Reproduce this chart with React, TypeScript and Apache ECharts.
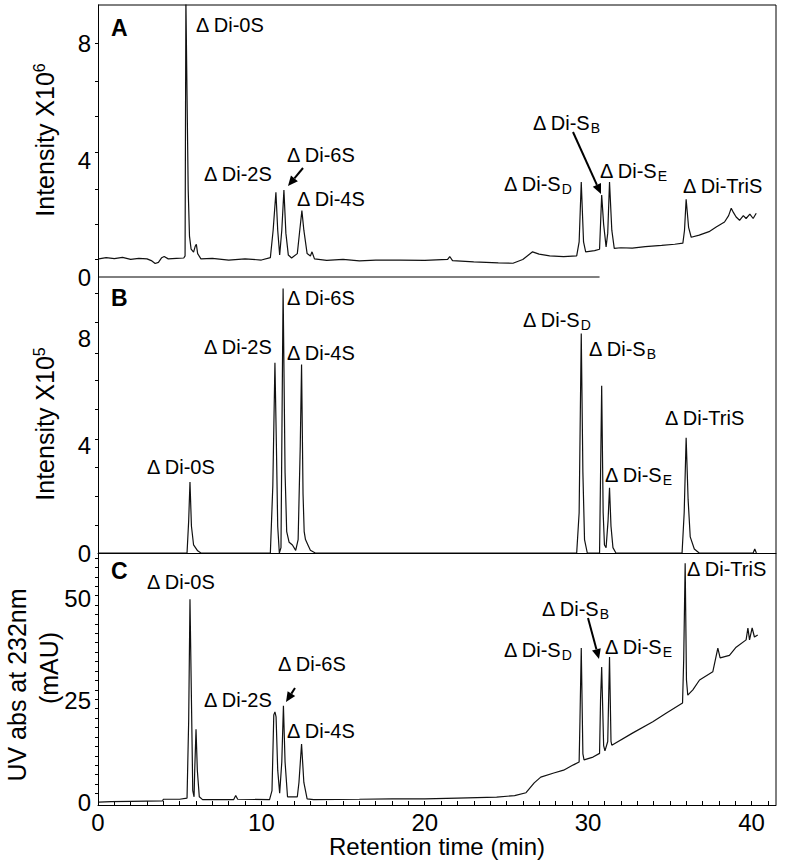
import React, { useEffect, useRef } from 'react';
import * as echarts from 'echarts';

// ---------- data ----------
const timeTicks = [0,1,2,3,4,5,6,7,8,9,10,11,12,13,14,15,16,17,18,19,20,21,22,23,24,25,26,27,28,29,30,31,32,33,34,35,36,37,38,39,40,41];
const timeLabels = [0, 10, 20, 30, 40];

const yTicksA = [0.6, 1.8, 3.0, 4.25, 5.5, 6.7, 8.0];
const yLabelsA = [0, 4, 8];
const yTicksB = [1.05, 2.1, 3.2, 4.25, 5.35, 6.45, 7.45, 8.6, 9.7];
const yLabelsB = [0, 4, 8];
const yTicksC = [2.3, 4.6, 6.9, 9.2, 11.5, 13.8, 16.1, 18.4, 20.7, 23, 25.3, 27.6, 29.9, 32.2, 34.5, 36.8, 39.1, 41.4, 43.7, 46, 48.3, 50.6, 52.9, 55.2, 57.5, 59.8];
const yLabelsC = [0, 25, 50];

// Panel A: MS intensity (x10^6) vs retention time (min)
const traceA: [number, number][] = [
  [0.05,0.62],[0.5,0.66],[1.0,0.63],[1.5,0.67],[2.0,0.60],[2.5,0.64],[3.0,0.62],[3.3,0.55],[3.5,0.46],[3.7,0.50],
  [3.9,0.66],[4.05,0.70],[4.3,0.62],[4.8,0.64],[5.25,0.65],[5.33,0.72],[5.38,9.5],[5.45,6.2],[5.52,3.0],[5.6,1.4],
  [5.7,0.95],[5.85,0.85],[5.95,1.05],[6.02,1.12],[6.1,0.8],[6.3,0.62],[7,0.64],[8,0.58],[9,0.62],[10.0,0.58],
  [10.55,0.66],[10.72,1.6],[10.89,2.9],[11.0,1.6],[11.12,0.75],[11.25,1.6],[11.38,2.97],[11.5,1.5],[11.65,0.75],[11.85,0.65],
  [12.2,0.8],[12.35,1.6],[12.48,2.27],[12.6,1.6],[12.8,0.8],[13.0,0.72],[13.1,0.86],[13.25,0.62],[14,0.57],[15,0.6],
  [16,0.55],[17,0.58],[18.5,0.58],[20,0.57],[21.4,0.6],[21.53,0.7],[21.7,0.56],[23,0.52],[24.5,0.48],[25.4,0.47],
  [26.0,0.6],[26.6,0.86],[27.0,0.78],[27.65,0.72],[28.5,0.70],[29.3,0.72],[29.45,1.2],[29.58,3.25],[29.72,1.2],[29.85,0.86],
  [30.4,0.9],[30.7,0.95],[30.83,2.8],[30.95,1.8],[31.1,1.03],[31.2,1.5],[31.31,3.25],[31.45,1.6],[31.6,0.98],[32.0,1.0],
  [32.7,0.99],[33.5,1.04],[34.5,1.08],[35.3,1.12],[35.8,1.16],[35.9,1.6],[36.0,2.66],[36.15,1.7],[36.31,1.36],[36.8,1.43],
  [37.4,1.55],[37.84,1.71],[38.35,1.88],[38.6,2.1],[38.76,2.35],[38.9,2.2],[39.06,2.05],[39.27,1.94],[39.5,2.1],[39.67,2.0],
  [39.9,2.15],[40.1,2.0],[40.29,2.18]
];

// Panel B: MS intensity (x10^5)
const traceB: [number, number][] = [
  [0.05,0],[5.45,0],[5.55,1.2],[5.63,2.65],[5.72,1.0],[5.85,0.3],[6.1,0.08],[6.3,0],[10.55,0],[10.7,2.5],
  [10.83,7.1],[10.92,4.0],[11.0,1.0],[11.1,0],[11.2,0.2],[11.33,9.87],[11.45,3.0],[11.55,0.8],[11.7,0.4],[11.9,0.3],
  [12.1,0.1],[12.25,0.5],[12.38,4.0],[12.46,7.03],[12.55,2.2],[12.62,0.8],[12.7,0.5],[12.85,0.3],[13.0,0.1],[13.3,0],
  [29.3,0],[29.45,1.5],[29.58,8.19],[29.68,3.0],[29.78,0.5],[29.95,0],[30.7,0],[30.83,6.24],[30.92,1.5],[31.0,0.3],
  [31.1,0.2],[31.22,1.2],[31.31,2.43],[31.4,1.0],[31.52,0.2],[31.7,0],[35.75,0],[35.88,1.5],[36.0,4.3],[36.12,2.0],
  [36.25,0.6],[36.5,0.15],[36.8,0],[40.1,0],[40.2,0.15],[40.3,0]
];

// Panel C: UV absorbance at 232 nm (mAU)
const traceC: [number, number][] = [
  [0.05,0.2],[0.8,0.3],[2.0,0.4],[3.95,0.5],[4.0,0.9],[5.0,0.9],[5.45,1.2],[5.55,20],[5.63,49.7],[5.72,25],
  [5.8,3],[5.88,1.5],[5.92,8],[6.0,18.0],[6.08,8],[6.2,1.5],[6.4,0.8],[8.3,0.8],[8.43,1.8],[8.55,0.9],
  [10.5,0.8],[10.65,3],[10.76,21.5],[10.83,22.2],[10.9,21],[11.0,8],[11.12,2.4],[11.25,10],[11.35,23.7],[11.45,10],
  [11.6,1.5],[12.2,1.5],[12.3,5],[12.46,14.4],[12.6,5],[12.8,1.0],[13.2,0.8],[16,0.9],[18,1.0],[20,1.0],
  [22,1.2],[24.4,1.4],[25.5,1.8],[26.2,2.5],[26.7,4.9],[27.1,6.3],[27.9,7.3],[28.5,8.0],[29.1,9.3],[29.45,10.0],
  [29.5,20],[29.58,37.8],[29.68,12],[29.75,10.5],[30.3,11.2],[30.7,12.1],[30.76,25],[30.83,33.2],[30.95,14],[31.03,12.7],
  [31.2,15],[31.31,35.6],[31.4,15],[31.45,14.1],[32.74,17.1],[33.96,19.8],[34.77,21.9],[35.78,24.4],[35.85,35],[35.94,58.5],
  [36.02,30],[36.1,26.3],[36.41,27.6],[36.82,30],[37.63,32],[37.94,37.8],[38.08,35.4],[38.65,36.0],[39.06,38.0],[39.67,39.8],
  [39.78,42.7],[39.88,39.8],[40.04,42.7],[40.18,40.5],[40.38,41]
];

// ---------- layout ----------
const FONT = 'Arial, "Liberation Sans", Helvetica, sans-serif';
const LEFT = 98;
const RIGHT_EDGE = 776;
const TOP_A = 5, BOT_A = 277;
const TOP_B = 277, BOT_B = 553;
const TOP_C = 553, BOT_C = 805;
const X_MAX = 41.5;
const A_AXIS_END = 30.7; // panel A bottom line stops here (min)

type Ann = { t: string; s?: string; x: number; y: number };
const annotations: Ann[] = [
  // A
  { t: 'Δ Di-0S', x: 196, y: 25 },
  { t: 'Δ Di-2S', x: 204, y: 174 },
  { t: 'Δ Di-6S', x: 287, y: 155 },
  { t: 'Δ Di-4S', x: 297, y: 199 },
  { t: 'Δ Di-S', s: 'B', x: 533, y: 123 },
  { t: 'Δ Di-S', s: 'E', x: 600, y: 171 },
  { t: 'Δ Di-S', s: 'D', x: 504, y: 184 },
  { t: 'Δ Di-TriS', x: 683, y: 186 },
  // B
  { t: 'Δ Di-6S', x: 287, y: 298 },
  { t: 'Δ Di-2S', x: 204, y: 347 },
  { t: 'Δ Di-4S', x: 287, y: 353 },
  { t: 'Δ Di-0S', x: 147, y: 467 },
  { t: 'Δ Di-S', s: 'D', x: 523, y: 320 },
  { t: 'Δ Di-S', s: 'B', x: 589, y: 349 },
  { t: 'Δ Di-TriS', x: 665, y: 418 },
  { t: 'Δ Di-S', s: 'E', x: 605, y: 475 },
  // C
  { t: 'Δ Di-0S', x: 147, y: 582 },
  { t: 'Δ Di-6S', x: 278, y: 664 },
  { t: 'Δ Di-2S', x: 204, y: 700 },
  { t: 'Δ Di-4S', x: 287, y: 731 },
  { t: 'Δ Di-TriS', x: 687, y: 569 },
  { t: 'Δ Di-S', s: 'B', x: 542, y: 609 },
  { t: 'Δ Di-S', s: 'E', x: 605, y: 647 },
  { t: 'Δ Di-S', s: 'D', x: 504, y: 650 },
];

const arrows: [number, number, number, number][] = [
  [303, 168, 288, 186],
  [573, 132, 601, 194],
  [295, 688, 286, 702],
  [588, 618, 599, 659],
];

function annText(a: Ann) {
  const text = a.s ? `{m|${a.t}}{s|${a.s}}` : `{m|${a.t}}`;
  return {
    type: 'text',
    x: a.x,
    y: a.y,
    silent: true,
    style: {
      text,
      align: 'left',
      verticalAlign: 'middle',
      fill: '#000',
      fontFamily: FONT,
      rich: {
        m: { fontSize: 20, fontFamily: FONT, fill: '#000', lineHeight: 24 },
        s: { fontSize: 14, fontFamily: FONT, fill: '#000', lineHeight: 14, verticalAlign: 'bottom' },
      },
    },
  };
}

function arrowEls(a: [number, number, number, number]) {
  const [x1, y1, x2, y2] = a;
  const dx = x2 - x1, dy = y2 - y1;
  const len = Math.sqrt(dx * dx + dy * dy);
  const ux = dx / len, uy = dy / len;
  const hl = 10, hw = 4.5;
  const bx = x2 - ux * hl, by = y2 - uy * hl;
  return [
    { type: 'line', silent: true, shape: { x1, y1, x2: bx, y2: by }, style: { stroke: '#000', lineWidth: 2 } },
    {
      type: 'polygon', silent: true,
      shape: { points: [[x2, y2], [bx - uy * hw, by + ux * hw], [bx + uy * hw, by - ux * hw]] },
      style: { fill: '#000' },
    },
  ];
}

function yTitle(text: string, x: number, y: number) {
  return {
    type: 'text', x, y, rotation: Math.PI / 2, silent: true,
    style: {
      text, align: 'center', verticalAlign: 'middle', fill: '#000', fontFamily: FONT,
      rich: {
        m: { fontSize: 25, fontFamily: FONT, fill: '#000', lineHeight: 28 },
        sup: { fontSize: 16, fontFamily: FONT, fill: '#000', lineHeight: 16, verticalAlign: 'top' },
      },
    },
  };
}

function panelLetter(t: string, y: number) {
  return {
    type: 'text', x: 111, y, silent: true,
    style: { text: t, align: 'left', verticalAlign: 'middle', fontSize: 23, fontWeight: 'bold', fontFamily: FONT, fill: '#000' },
  };
}

function yAxisCfg(gridIndex: number, min: number, max: number, ticks: number[], labels: number[]) {
  return {
    type: 'value', gridIndex, min, max,
    axisLine: { show: true, onZero: false, lineStyle: { color: '#000', width: 1 } },
    axisTick: { show: true, inside: false, length: 3, customValues: ticks, lineStyle: { color: '#000', width: 1 } },
    axisLabel: { show: true, customValues: labels, fontSize: 24, color: '#000', fontFamily: FONT, margin: 7 },
    splitLine: { show: false },
  };
}

function lineSeries(idx: number, data: [number, number][]) {
  return {
    type: 'line', xAxisIndex: idx, yAxisIndex: idx, data,
    symbol: 'none', clip: true, smooth: false,
    lineStyle: { color: '#111', width: 1.2 },
    silent: true,
  };
}

export default function App() {
  const ref = useRef<HTMLDivElement>(null);
  useEffect(() => {
    if (!ref.current) return;
    const chart = echarts.init(ref.current, undefined, { renderer: 'svg' });
    const plotW = RIGHT_EDGE - LEFT;
    const aEndX = LEFT + (A_AXIS_END / X_MAX) * plotW;
    const graphic: any[] = [
      { type: 'line', silent: true, shape: { x1: LEFT, y1: TOP_A, x2: RIGHT_EDGE, y2: TOP_A }, style: { stroke: '#000', lineWidth: 1 } },
      { type: 'line', silent: true, shape: { x1: RIGHT_EDGE, y1: TOP_A, x2: RIGHT_EDGE, y2: BOT_C }, style: { stroke: '#000', lineWidth: 1 } },
      { type: 'line', silent: true, shape: { x1: LEFT, y1: BOT_A, x2: aEndX, y2: BOT_A }, style: { stroke: '#000', lineWidth: 1 } },
      panelLetter('A', 28),
      panelLetter('B', 298),
      panelLetter('C', 571),
      yTitle('{m|Intensity X10}{sup|6}', 45, 140),
      yTitle('{m|Intensity X10}{sup|5}', 45, 424),
      yTitle('{m|UV abs at 232nm}', 17, 685),
      yTitle('{m|(mAU)}', 49, 668),
      ...annotations.map(annText),
      ...arrows.flatMap(arrowEls),
    ];
    const gridBase = { left: LEFT, width: RIGHT_EDGE - LEFT, show: false, containLabel: false };
    chart.setOption({
      animation: false,
      backgroundColor: '#fff',
      grid: [
        { ...gridBase, top: TOP_A, height: BOT_A - TOP_A },
        { ...gridBase, top: TOP_B, height: BOT_B - TOP_B },
        { ...gridBase, top: TOP_C, height: BOT_C - TOP_C },
      ],
      xAxis: [
        { type: 'value', gridIndex: 0, min: 0, max: X_MAX, show: false },
        {
          type: 'value', gridIndex: 1, min: 0, max: X_MAX,
          axisLine: { show: true, onZero: false, lineStyle: { color: '#000', width: 1 } },
          axisTick: { show: false }, axisLabel: { show: false }, splitLine: { show: false },
        },
        {
          type: 'value', gridIndex: 2, min: 0, max: X_MAX,
          axisLine: { show: true, onZero: false, lineStyle: { color: '#000', width: 1 } },
          axisTick: { show: true, inside: true, length: 4, customValues: timeTicks, lineStyle: { color: '#000', width: 1 } },
          axisLabel: { show: true, customValues: timeLabels, fontSize: 24, color: '#000', fontFamily: FONT, margin: 5 },
          splitLine: { show: false },
          name: 'Retention time (min)', nameLocation: 'middle', nameGap: 29,
          nameTextStyle: { fontSize: 24, color: '#000', fontFamily: FONT },
        },
      ],
      yAxis: [
        yAxisCfg(0, 0, 9.3, yTicksA, yLabelsA),
        yAxisCfg(1, 0, 10.3, yTicksB, yLabelsB),
        yAxisCfg(2, -0.5, 61, yTicksC, yLabelsC),
      ],
      series: [lineSeries(0, traceA), lineSeries(1, traceB), lineSeries(2, traceC)],
      graphic,
    });
    return () => chart.dispose();
  }, []);
  return <div ref={ref} style={{ position: 'fixed', left: 0, top: 0, width: 800, height: 864, background: '#fff' }} />;
}
